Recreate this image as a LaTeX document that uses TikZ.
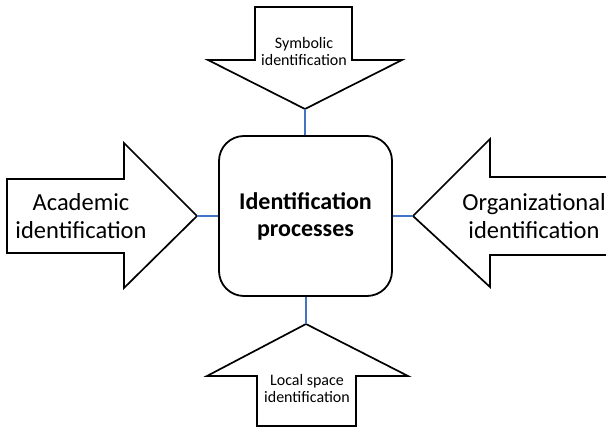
\documentclass[tikz,border=0pt]{standalone}
\usepackage{fontspec}
\setmainfont{Carlito}
\usetikzlibrary{positioning}
\definecolor{linkblue}{RGB}{68,114,196}

\begin{document}
\begin{tikzpicture}[
  x=1pt, y=-1pt,
  process/.style={rectangle, draw, line width=1.8pt, rounded corners=25pt, minimum width=173pt, minimum height=160pt, align=center, font=\fontsize{24}{27}\selectfont\bfseries},
  bigarrow/.style={draw, line width=1.7pt, fill=white, line join=miter},
  biglabel/.style={align=center, font=\fontsize{24.5}{28}\selectfont},
  smalllabel/.style={align=center, font=\fontsize{16}{17}\selectfont, inner sep=1pt},
  link/.style={draw=linkblue, line width=1.3pt},
]
\useasboundingbox (0,0) rectangle (606,427);

% Central block
\node[process] (proc) at (305.5,216) {Identification\\processes};

% Arrow shapes
\draw[bigarrow] (7,179) -- (124,179) -- (124,143) -- (197,216) -- (124,288) -- (124,253) -- (7,253) -- cycle;
\draw[bigarrow] (609,177) -- (490,177) -- (490,139) -- (413,216) -- (490,287) -- (490,255) -- (609,255);
\draw[bigarrow] (255,7) -- (352,7) -- (352,60) -- (402,60) -- (305,109) -- (208,60) -- (255,60) -- cycle;
\draw[bigarrow] (306,324) -- (408,376) -- (356,376) -- (356,426) -- (257,426) -- (257,376) -- (207,376) -- cycle;

% Arrow tips
\coordinate (acadtip) at (197,216);
\coordinate (orgtip) at (413,216);
\coordinate (symtip) at (305,109);
\coordinate (loctip) at (306,324);

% Labels
\node[biglabel] (acad) at (81,216) {Academic\\identification};
\node[biglabel] (org) at (534,216) {Organizational\\identification};
\node[smalllabel] (sym) at (304,52) {Symbolic\\identification};
\node[smalllabel] (loc) at (307,389) {Local space\\identification};

% Connections
\draw[link] (acadtip) -- (acadtip -| proc.west);
\draw[link] (orgtip) -- (orgtip -| proc.east);
\draw[link] (symtip) -- (symtip |- proc.north);
\draw[link] (loctip) -- (loctip |- proc.south);

\end{tikzpicture}
\end{document}
